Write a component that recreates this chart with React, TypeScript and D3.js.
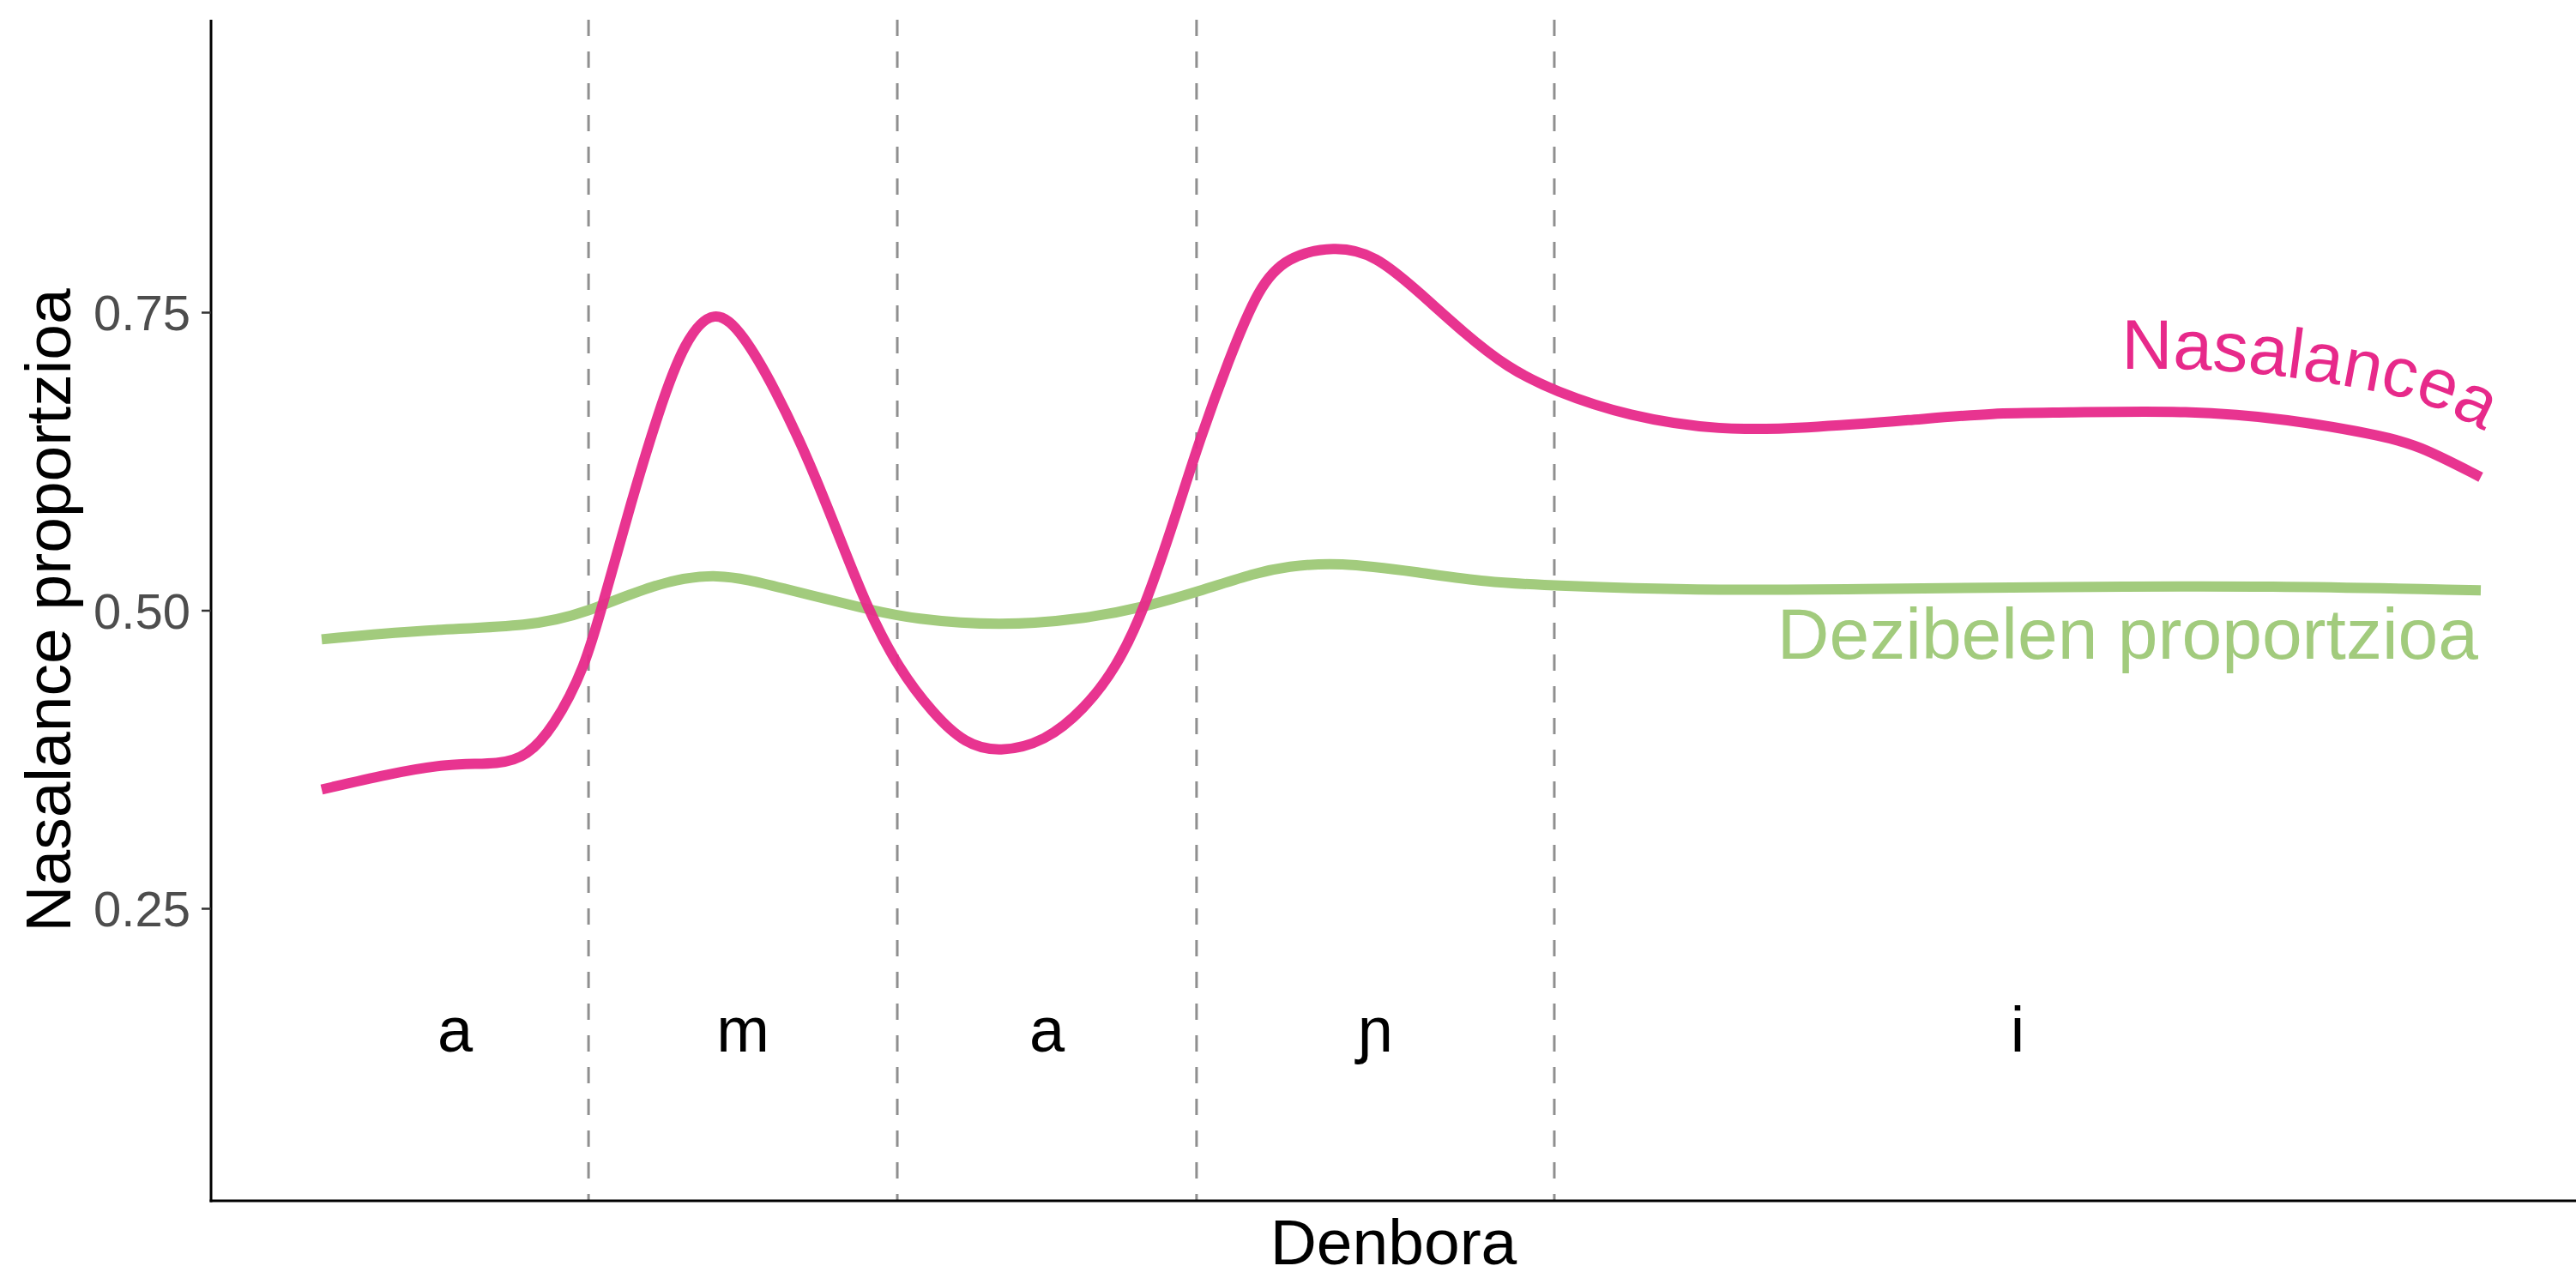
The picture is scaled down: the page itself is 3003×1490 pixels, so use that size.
import React from 'react';
import * as d3 from 'd3';

// ---- data ----
const segmentLabels: string[] = ['a', 'm', 'a', 'ɲ', 'i'];
const segmentBounds: number[] = [0, 0.1236, 0.2666, 0.4052, 0.5709, 1];
const yTicks: number[] = [0.25, 0.5, 0.75];
const yTickLabels: string[] = ['0.25', '0.50', '0.75'];

const nasalTime: number[] = [
  0.0, 0.031, 0.058, 0.083, 0.095, 0.107, 0.122, 0.131, 0.143, 0.156, 0.168, 0.182, 0.195,
  0.21, 0.226, 0.241, 0.253, 0.267, 0.283, 0.298, 0.314, 0.335, 0.353, 0.368, 0.381, 0.396,
  0.406, 0.42, 0.434, 0.447, 0.469, 0.488, 0.509, 0.529, 0.549, 0.571, 0.605, 0.648, 0.686,
  0.737, 0.775, 0.805, 0.866, 0.91, 0.957, 0.973, 1.0,
];
const nasalValue: number[] = [
  0.35, 0.363, 0.372, 0.371, 0.378, 0.401, 0.452, 0.511, 0.589, 0.667, 0.727, 0.755, 0.733,
  0.686, 0.625, 0.556, 0.501, 0.452, 0.414, 0.388, 0.381, 0.39, 0.417, 0.452, 0.501, 0.582,
  0.64, 0.71, 0.772, 0.797, 0.806, 0.799, 0.766, 0.733, 0.704, 0.684, 0.663, 0.651, 0.653,
  0.66, 0.666, 0.666, 0.668, 0.661, 0.646, 0.637, 0.612,
];

const dbTime: number[] = [
  0.0, 0.046, 0.098, 0.122, 0.153, 0.183, 0.213, 0.253, 0.274, 0.314, 0.353, 0.381, 0.406,
  0.433, 0.447, 0.47, 0.509, 0.539, 0.571, 0.635, 0.711, 0.805, 0.904, 1.0,
];
const dbValue: number[] = [
  0.476, 0.484, 0.487, 0.498, 0.522, 0.533, 0.519, 0.501, 0.493, 0.487, 0.493, 0.503, 0.516,
  0.532, 0.537, 0.541, 0.532, 0.524, 0.521, 0.517, 0.518, 0.52, 0.521, 0.517,
];

// ---- layout ----
const W = 3003;
const H = 1490;
const panel = { left: 246, top: 23, right: 3003, bottom: 1400 };
const FONT = '"Liberation Sans", Arial, Helvetica, sans-serif';
const PINK = '#E7298A';
const GREEN = '#A2CB7D';

export default function App() {
  const x = d3.scaleLinear().domain([0, 1]).range([375, 2892]);
  const y = d3.scaleLinear().domain([0, 1]).range([1407, 17]);

  const nasalPts: [number, number][] = nasalTime.map((t, i) => [x(t), y(nasalValue[i])]);
  const dbPts: [number, number][] = dbTime.map((t, i) => [x(t), y(dbValue[i])]);

  const line = d3.line<[number, number]>().curve(d3.curveBasis);

  // offset path above the nasalance curve for the curved label
  const startIdx = nasalTime.findIndex((t) => t >= 0.7);
  const sub = nasalPts.slice(startIdx - 1);
  const offset = 50;
  const offPts: [number, number][] = [];
  for (let i = 1; i < sub.length; i++) {
    const p0 = sub[Math.max(0, i - 1)];
    const p1 = sub[Math.min(sub.length - 1, i + 1)];
    let tx = p1[0] - p0[0];
    let ty = p1[1] - p0[1];
    const len = Math.hypot(tx, ty) || 1;
    tx /= len;
    ty /= len;
    offPts.push([sub[i][0] + ty * offset, sub[i][1] - tx * offset]);
  }
  const labelPath = line(offPts) || '';

  return (
    <svg
      width={W}
      height={H}
      style={{ position: 'absolute', left: 0, top: 0, background: '#fff', display: 'block' }}
      fontFamily={FONT}
    >
      <rect x={0} y={0} width={W} height={H} fill="#fff" />
      <defs>
        <path id="nasal-label-path" d={labelPath} />
      </defs>

      {/* segment boundaries */}
      {segmentBounds.slice(1, -1).map((b, i) => (
        <line
          key={'b' + i}
          x1={x(b)}
          x2={x(b)}
          y1={panel.top}
          y2={panel.bottom}
          stroke="#8f8f8f"
          strokeWidth={3}
          strokeDasharray="19,18"
        />
      ))}

      {/* segment labels */}
      {segmentLabels.map((s, i) => (
        <text
          key={'s' + i}
          x={x((segmentBounds[i] + segmentBounds[i + 1]) / 2)}
          y={1226}
          fontSize={74}
          textAnchor="middle"
          fill="#000"
        >
          {s}
        </text>
      ))}

      {/* lines */}
      <path d={line(dbPts) || ''} fill="none" stroke={GREEN} strokeWidth={12} strokeLinecap="butt" />
      <path d={line(nasalPts) || ''} fill="none" stroke={PINK} strokeWidth={12} opacity={0.95} strokeLinecap="butt" />

      {/* line labels */}
      <text fontSize={82} fill={PINK}>
        <textPath href="#nasal-label-path" startOffset="97%" textAnchor="end">
          Nasalancea
        </textPath>
      </text>
      <text x={x(1) - 3} y={768} fontSize={84} fill={GREEN} textAnchor="end">
        Dezibelen proportzioa
      </text>

      {/* axes */}
      <line x1={panel.left} x2={panel.left} y1={panel.top} y2={panel.bottom + 1.5} stroke="#000" strokeWidth={3} />
      <line x1={panel.left - 1.5} x2={panel.right} y1={panel.bottom} y2={panel.bottom} stroke="#000" strokeWidth={3} />
      {yTicks.map((v, i) => (
        <g key={'t' + i}>
          <line x1={panel.left - 11} x2={panel.left} y1={y(v)} y2={y(v)} stroke="#333" strokeWidth={2.5} />
          <text
            x={panel.left - 24}
            y={y(v)}
            dy="0.36em"
            fontSize={58}
            fill="#4d4d4d"
            textAnchor="end"
          >
            {yTickLabels[i]}
          </text>
        </g>
      ))}

      {/* axis titles */}
      <text x={(panel.left + panel.right) / 2} y={1474} fontSize={75} textAnchor="middle" fill="#000">
        Denbora
      </text>
      <text
        transform={`translate(82, ${(panel.top + panel.bottom) / 2}) rotate(-90)`}
        fontSize={75}
        textAnchor="middle"
        fill="#000"
      >
        Nasalance proportzioa
      </text>
    </svg>
  );
}
